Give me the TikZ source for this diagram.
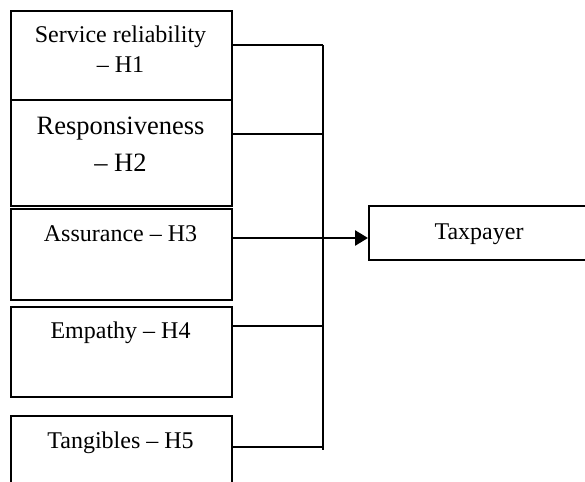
\documentclass[tikz,border=0pt]{standalone}
\usepackage{fontspec}
\setmainfont{Liberation Serif}
\usetikzlibrary{arrows.meta}
\begin{document}
\begin{tikzpicture}[x=1pt,y=-1pt,
  box/.style={draw, line width=1.8pt, minimum width=221pt, anchor=north west, inner sep=0pt},
  txt/.style={anchor=base, inner sep=0pt, font=\fontsize{24}{28}\selectfont},
  txtbig/.style={anchor=base, inner sep=0pt, font=\fontsize{26.5}{30}\selectfont},
  conn/.style={line width=1.3pt},
  arr/.style={line width=2.6pt, -{Triangle[length=13pt,width=15pt]}}]
\clip (0,0) rectangle (585,481);
% boxes
\node[box, minimum height=89pt] (b1) at (10,10) {};
\node[box, minimum height=106pt] (b2) at (10,99) {};
\node[box, minimum height=91pt] (b3) at (10,208) {};
\node[box, minimum height=90pt] (b4) at (10,306) {};
\node[box, minimum height=100pt] (b5) at (10,415) {};
\node[box, minimum width=240pt, minimum height=54pt] (tax) at (368,205) {};
% texts
\node[txt] (t1a) at (120.5,43) {Service reliability};
\node[txt] (t1b) at (120.5,73) {– H1};
\node[txtbig] (t2a) at (120.5,135) {Responsiveness};
\node[txtbig] (t2b) at (120.5,171) {– H2};
\node[txt] (t3) at (120.5,241) {Assurance – H3};
\node[txt] (t4) at (120.5,338) {Empathy – H4};
\node[txt] (t5) at (120.5,448) {Tangibles – H5};
\node[txt] (tt) at (479,239) {Taxpayer};
% junction coordinates on the bus
\coordinate (j1) at (323,45);
\coordinate (j2) at (323,134);
\coordinate (j3) at (323,238);
\coordinate (j4) at (323,326);
\coordinate (j5) at (323,447);
\coordinate (jend) at (323,450);
% connectors
\draw[conn] (b1.east |- j1) -- (j1);
\draw[conn] (b2.east |- j2) -- (j2);
\draw[conn] (b4.east |- j4) -- (j4);
\draw[conn] (b5.east |- j5) -- (j5);
\draw[conn] (j1) -- (jend);
\draw[arr] (b3.east |- j3) -- (tax.west |- j3);
\end{tikzpicture}
\end{document}
